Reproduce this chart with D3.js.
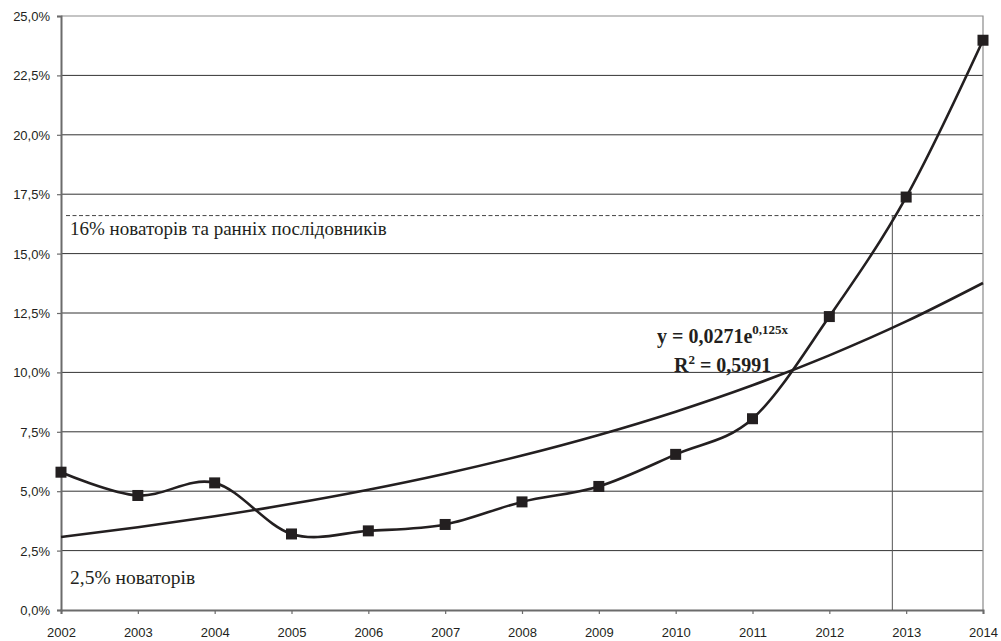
<!DOCTYPE html>
<html>
<head>
<meta charset="utf-8">
<script src="https://cdn.jsdelivr.net/npm/d3@7"></script>
<style>
    body { margin: 0; background: #fff; }
    svg text { fill: #231f20; }
</style>
</head>
<body>
<div id="chart"></div>
<script>
// data
const years = [2002, 2003, 2004, 2005, 2006, 2007, 2008, 2009, 2010, 2011, 2012, 2013, 2014];
const shares = [5.8, 4.82, 5.35, 3.2, 3.33, 3.6, 4.55, 5.2, 6.55, 8.05, 12.35, 17.38, 23.98];
const yTicks = [0, 2.5, 5, 7.5, 10, 12.5, 15, 17.5, 20, 22.5, 25];
// trend line coefficients as printed on the chart (x = 1 for 2002)
const trendA = 0.0271;
const trendB = 0.125;
const earlyLevel = 16.6;       // dashed "16%" line
const crossYear = 2012.82;     // where the series crosses that level
const labels = {
    early: "16% новаторів та ранніх послідовників",
    innovators: "2,5% новаторів"
};

let margin = {top: 16, right: 18, bottom: 31, left: 61},
    width = 1001 - margin.left - margin.right,
    height = 641 - margin.top - margin.bottom;

let svg = d3.select("#chart")
    .append("svg")
    .attr("width", 1001)
    .attr("height", 641)
    .append("g")
    .attr("transform", "translate(" + margin.left + "," + margin.top + ")");

let x = d3.scaleLinear().domain([2002, 2014]).range([0, width]);
let y = d3.scaleLinear().domain([0, 25]).range([height, 0]);

const fmt = v => d3.format(".1f")(v).replace(".", ",") + "%";

// gridlines
svg.selectAll(".grid")
    .data(yTicks.filter(t => t > 0 && t < 25))
    .enter()
    .append("line")
    .attr("x1", 0).attr("x2", width)
    .attr("y1", d => y(d)).attr("y2", d => y(d))
    .style("stroke", "#333")
    .style("stroke-width", 1);

// top and right border
svg.append("path")
    .attr("d", `M0,${y(25)}H${width}V${height}`)
    .style("fill", "none")
    .style("stroke", "#8a8a8a")
    .style("stroke-width", 1.2);

// axes
let yAxis = svg.append("g")
    .call(d3.axisLeft(y).tickValues(yTicks).tickSize(4).tickFormat(fmt));
let xAxis = svg.append("g")
    .attr("transform", "translate(0," + height + ")")
    .call(d3.axisBottom(x).tickValues(years).tickSize(4).tickFormat(d3.format("d")));

[yAxis, xAxis].forEach(a => {
    a.select(".domain").style("stroke", "#6b6b6b").style("stroke-width", 2);
    a.selectAll(".tick line").style("stroke", "#6b6b6b").style("stroke-width", 1.2);
    a.selectAll("text")
        .style("font-family", "'Liberation Sans', Arial, sans-serif")
        .style("font-size", "13px")
        .style("fill", "#231f20");
});
yAxis.selectAll("text").attr("x", -11).attr("dy", "0.35em");
xAxis.selectAll("text").attr("y", 27).attr("dy", "0");

// 16% level and drop line
svg.append("line")
    .attr("x1", 5).attr("x2", width)
    .attr("y1", y(earlyLevel)).attr("y2", y(earlyLevel))
    .style("stroke", "#444")
    .style("stroke-width", 1)
    .style("stroke-dasharray", "4,2.5");
svg.append("line")
    .attr("x1", x(crossYear)).attr("x2", x(crossYear))
    .attr("y1", y(earlyLevel)).attr("y2", height)
    .style("stroke", "#555")
    .style("stroke-width", 1);

// exponential trend line
let trend = years.map((yr, i) => [yr, 100 * trendA * Math.exp(trendB * (i + 1))]);
let line = d3.line()
    .x(d => x(d[0]))
    .y(d => y(d[1]));
svg.append("path")
    .attr("d", line.curve(d3.curveMonotoneX)(trend))
    .style("fill", "none")
    .style("stroke", "#231f20")
    .style("stroke-width", 2.6);

// data series, smoothed
let series = years.map((yr, i) => [yr, shares[i]]);
svg.append("path")
    .attr("d", line.curve(d3.curveCatmullRom.alpha(0))(series))
    .style("fill", "none")
    .style("stroke", "#231f20")
    .style("stroke-width", 2.6);

svg.selectAll(".marker")
    .data(series)
    .enter()
    .append("rect")
    .attr("x", d => x(d[0]) - 5.5)
    .attr("y", d => y(d[1]) - 5.5)
    .attr("width", 11)
    .attr("height", 11)
    .style("fill", "#231f20");

// annotations
const serif = "'Liberation Serif', 'Times New Roman', serif";
svg.append("text")
    .attr("x", 9).attr("y", 219)
    .style("font-family", serif).style("font-size", "19px")
    .text(labels.early);
svg.append("text")
    .attr("x", 9).attr("y", 568)
    .style("font-family", serif).style("font-size", "19.5px")
    .text(labels.innovators);

let eq = svg.append("text")
    .attr("x", 596).attr("y", 327)
    .style("font-family", serif).style("font-size", "20px").style("font-weight", "bold");
eq.append("tspan").text("y = 0,0271e");
eq.append("tspan").attr("dy", -9).style("font-size", "13px").text("0,125x");

let r2 = svg.append("text")
    .attr("x", 613).attr("y", 356)
    .style("font-family", serif).style("font-size", "20px").style("font-weight", "bold");
r2.append("tspan").text("R");
r2.append("tspan").attr("dy", -8).style("font-size", "13px").text("2");
r2.append("tspan").attr("dy", 8).text(" = 0,5991");
</script>
</body>
</html>
